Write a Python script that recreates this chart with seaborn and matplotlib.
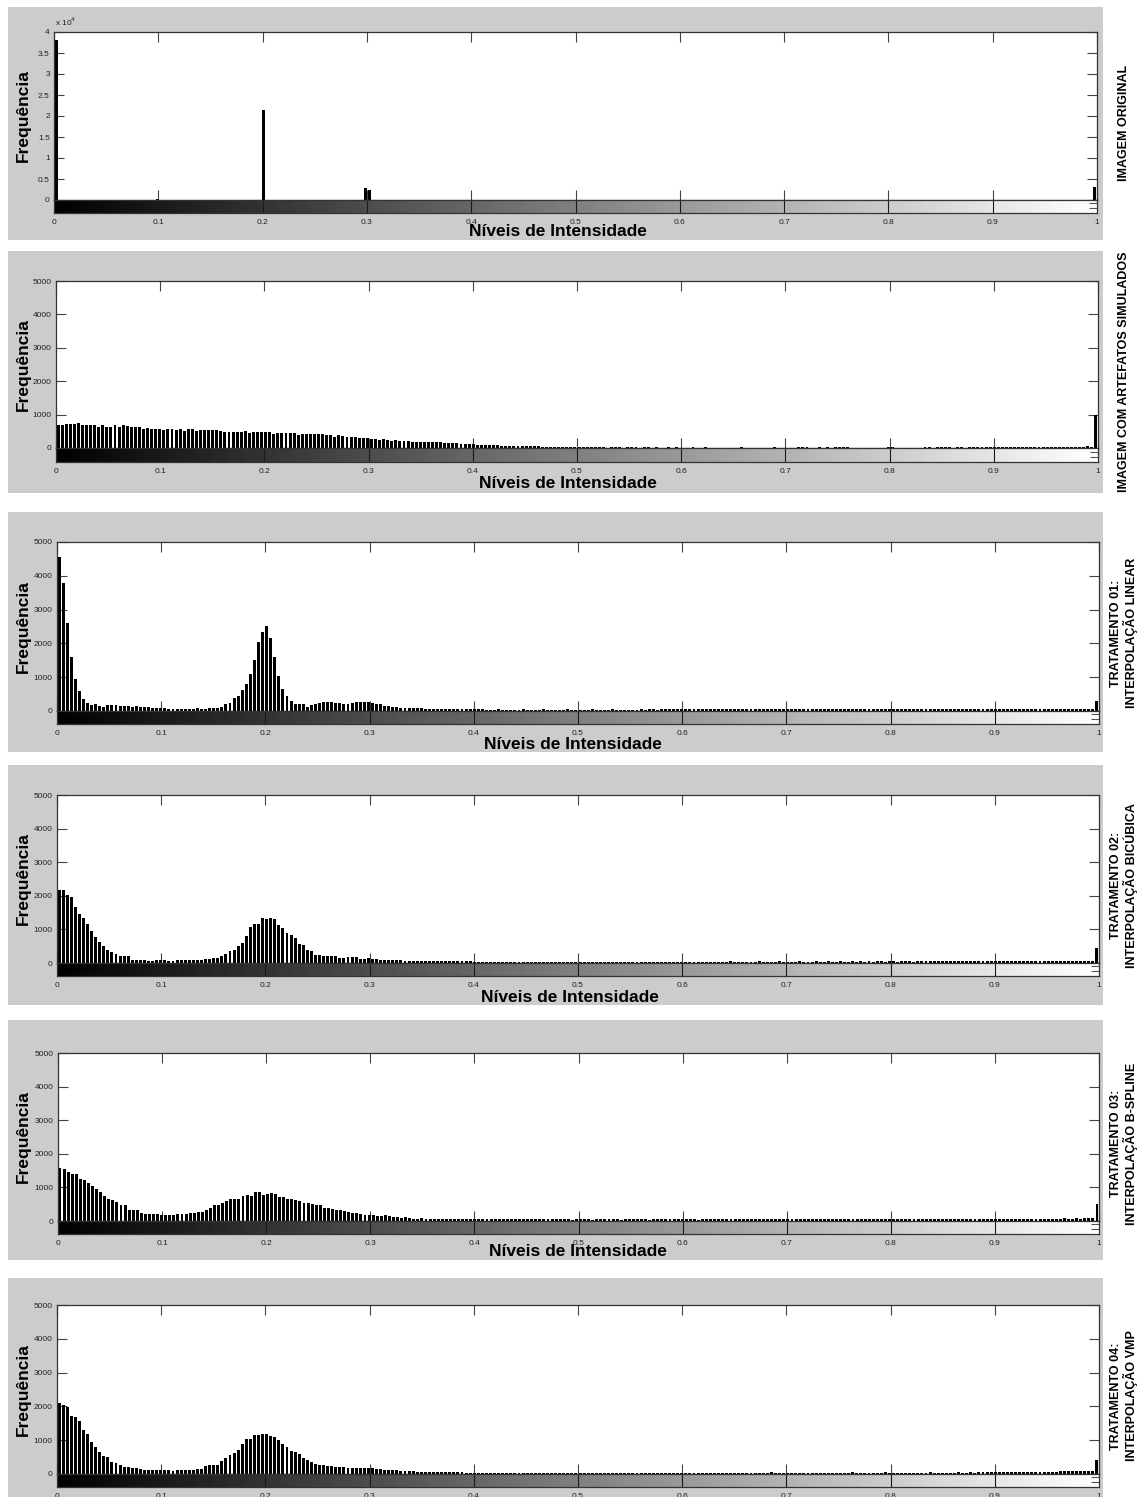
import numpy as np
import pandas as pd
import matplotlib
matplotlib.use("Agg")
import matplotlib.pyplot as plt
import seaborn as sns
from matplotlib.patches import Rectangle

# 256 niveis de cinza, centro de cada bin no intervalo [0, 1]
levels = (np.arange(256) + 0.5) / 256

# imagem original: so alguns niveis ocupados
orig_bins = [0, 25, 51, 76, 77, 255]
orig_counts = [38000, 150, 21500, 2800, 2300, 3000]

artefatos = [
    700, 690, 710, 730, 720, 740, 700, 690, 690, 690, 640, 680, 630, 640, 690, 620,
    700, 660, 620, 620, 620, 580, 600, 580, 570, 560, 550, 560, 560, 540, 570, 520,
    570, 560, 500, 550, 540, 530, 550, 540, 520, 490, 490, 490, 480, 490, 500, 460,
    470, 480, 470, 480, 470, 430, 450, 460, 460, 460, 450, 400, 420, 430, 420, 410,
    420, 410, 390, 380, 330, 400, 360, 330, 320, 320, 310, 290, 300, 280, 260, 250,
    270, 240, 220, 230, 210, 200, 200, 190, 190, 180, 190, 180, 180, 170, 170, 160,
    160, 150, 150, 130, 130, 120, 110, 100, 100, 90, 80, 80, 80, 70, 70, 60,
    60, 60, 60, 50, 50, 50, 50, 40, 40, 40, 40, 40, 40, 40, 40, 40,
    30, 40, 30, 30, 40, 30, 30, 0, 30, 20, 30, 0, 30, 30, 20, 0,
    20, 30, 0, 20, 0, 0, 30, 0, 20, 0, 0, 0, 30, 0, 0, 20,
    0, 0, 0, 0, 0, 0, 0, 0, 30, 0, 0, 0, 0, 0, 0, 0,
    20, 0, 0, 0, 0, 0, 30, 20, 30, 0, 0, 30, 0, 20, 0, 30,
    30, 20, 30, 0, 0, 0, 0, 0, 0, 0, 0, 0, 20, 30, 0, 0,
    0, 0, 0, 0, 0, 20, 30, 0, 30, 30, 20, 30, 0, 30, 30, 0,
    30, 30, 20, 30, 30, 30, 30, 30, 20, 30, 30, 30, 30, 30, 30, 30,
    30, 30, 30, 40, 30, 30, 30, 30, 30, 30, 30, 30, 40, 50, 40, 1000,
]

linear = [
    4550, 3800, 2600, 1600, 950, 580, 350, 230, 180, 200, 160, 130, 180, 180, 180, 150,
    150, 140, 130, 140, 120, 110, 110, 100, 100, 100, 100, 70, 70, 70, 70, 70,
    70, 70, 80, 70, 70, 80, 80, 90, 130, 210, 230, 370, 450, 620, 800, 1100,
    1520, 2030, 2340, 2500, 2150, 1600, 1050, 660, 430, 300, 200, 200, 200, 130, 170, 210,
    240, 270, 270, 270, 230, 230, 210, 220, 250, 270, 280, 280, 280, 250, 220, 200,
    150, 150, 130, 110, 100, 100, 90, 90, 80, 80, 70, 70, 70, 60, 60, 60,
    60, 60, 50, 50, 50, 50, 50, 50, 50, 40, 40, 40, 50, 40, 40, 40,
    40, 40, 50, 40, 40, 40, 40, 50, 40, 40, 40, 40, 40, 50, 40, 40,
    40, 40, 40, 50, 40, 40, 40, 40, 50, 40, 40, 40, 40, 40, 40, 50,
    40, 50, 50, 40, 50, 50, 50, 50, 50, 50, 50, 50, 50, 50, 50, 50,
    50, 50, 50, 50, 50, 50, 60, 50, 50, 50, 50, 50, 60, 50, 50, 50,
    50, 60, 50, 50, 50, 60, 50, 50, 60, 50, 60, 50, 50, 60, 50, 60,
    60, 50, 60, 60, 60, 60, 50, 60, 60, 60, 60, 60, 60, 60, 60, 60,
    60, 60, 60, 60, 60, 60, 60, 60, 60, 60, 70, 60, 60, 60, 60, 70,
    60, 60, 60, 70, 60, 60, 60, 60, 70, 60, 60, 60, 60, 60, 60, 70,
    60, 60, 60, 60, 70, 60, 60, 60, 60, 70, 60, 60, 70, 60, 60, 300,
]

bicubica = [
    2180, 2180, 2020, 1970, 1670, 1450, 1350, 1150, 950, 780, 630, 500, 400, 330, 280, 200,
    200, 200, 100, 100, 100, 80, 60, 50, 80, 80, 80, 70, 70, 80, 80, 80,
    80, 80, 90, 100, 120, 120, 150, 150, 200, 280, 350, 400, 500, 600, 800, 1070,
    1170, 1170, 1330, 1300, 1350, 1300, 1120, 1050, 900, 830, 750, 580, 530, 400, 350, 250,
    230, 200, 200, 200, 200, 150, 150, 170, 170, 170, 120, 110, 140, 130, 110, 100,
    100, 90, 90, 80, 80, 70, 70, 70, 60, 60, 60, 60, 60, 60, 50, 50,
    50, 50, 50, 50, 50, 50, 40, 40, 40, 40, 40, 40, 40, 40, 40, 40,
    40, 40, 40, 30, 40, 40, 40, 40, 40, 30, 40, 40, 40, 40, 30, 40,
    40, 40, 40, 40, 30, 40, 40, 40, 40, 40, 40, 30, 40, 40, 40, 40,
    40, 40, 30, 40, 40, 40, 40, 40, 40, 40, 40, 40, 40, 40, 40, 40,
    40, 40, 40, 40, 40, 50, 40, 40, 40, 40, 40, 40, 50, 40, 40, 40,
    40, 50, 40, 40, 40, 40, 50, 40, 40, 40, 50, 40, 40, 50, 40, 40,
    50, 40, 40, 50, 40, 50, 40, 50, 40, 50, 50, 40, 50, 50, 40, 50,
    50, 50, 40, 50, 50, 50, 50, 50, 50, 50, 50, 50, 50, 50, 50, 50,
    50, 50, 50, 50, 50, 50, 50, 60, 50, 50, 50, 50, 50, 50, 60, 50,
    50, 50, 60, 50, 50, 50, 60, 50, 50, 60, 50, 50, 60, 60, 60, 450,
]

bspline = [
    1580, 1550, 1450, 1400, 1400, 1250, 1230, 1120, 1040, 950, 860, 750, 650, 630, 560, 470,
    470, 340, 330, 330, 250, 220, 210, 200, 200, 190, 180, 180, 180, 200, 200, 200,
    230, 230, 280, 280, 330, 380, 480, 480, 550, 600, 640, 640, 640, 730, 780, 750,
    850, 850, 780, 790, 840, 810, 720, 720, 650, 650, 620, 600, 540, 540, 520, 490,
    480, 400, 380, 350, 330, 330, 300, 260, 230, 240, 200, 190, 180, 180, 150, 160,
    170, 140, 110, 110, 90, 110, 80, 70, 70, 80, 70, 70, 70, 70, 70, 60,
    60, 70, 60, 60, 60, 60, 60, 60, 60, 60, 50, 60, 50, 50, 60, 50,
    50, 50, 60, 50, 50, 50, 50, 60, 50, 50, 50, 50, 50, 50, 40, 50,
    50, 50, 50, 40, 50, 50, 50, 50, 50, 50, 40, 50, 50, 50, 50, 50,
    50, 40, 50, 50, 50, 50, 50, 50, 50, 50, 50, 50, 50, 40, 50, 50,
    50, 50, 50, 50, 50, 50, 50, 50, 60, 50, 50, 50, 50, 50, 50, 50,
    50, 50, 60, 50, 50, 50, 50, 60, 50, 50, 50, 60, 50, 50, 60, 50,
    60, 50, 50, 60, 50, 60, 50, 60, 60, 50, 60, 60, 50, 60, 60, 60,
    60, 60, 60, 60, 60, 60, 60, 60, 60, 70, 60, 60, 60, 60, 60, 60,
    60, 60, 60, 70, 60, 60, 60, 70, 60, 60, 70, 60, 70, 60, 70, 70,
    70, 70, 70, 60, 70, 70, 70, 80, 70, 70, 80, 70, 80, 80, 80, 500,
]

vmp = [
    2100, 2030, 1980, 1730, 1680, 1570, 1290, 1180, 950, 800, 650, 530, 510, 350, 330, 270,
    220, 200, 180, 170, 140, 130, 130, 120, 120, 110, 110, 110, 100, 110, 120, 120,
    120, 130, 140, 160, 230, 260, 270, 280, 370, 480, 570, 620, 700, 880, 1030, 1030,
    1150, 1150, 1190, 1190, 1130, 1090, 1020, 900, 800, 680, 650, 580, 460, 420, 350, 300,
    280, 260, 230, 230, 220, 200, 200, 190, 180, 180, 180, 170, 170, 170, 160, 150,
    130, 130, 110, 120, 100, 100, 80, 80, 60, 60, 60, 60, 50, 50, 50, 50,
    50, 50, 50, 50, 40, 40, 40, 40, 40, 40, 40, 40, 40, 40, 40, 40,
    40, 40, 40, 40, 40, 40, 40, 30, 40, 40, 40, 40, 40, 40, 40, 40,
    40, 40, 30, 40, 40, 40, 40, 40, 40, 30, 40, 40, 40, 40, 40, 40,
    40, 40, 40, 40, 40, 30, 40, 40, 40, 40, 40, 40, 40, 40, 40, 40,
    40, 40, 40, 40, 40, 40, 40, 40, 40, 40, 40, 40, 40, 40, 40, 50,
    40, 40, 40, 40, 30, 40, 40, 40, 40, 40, 40, 40, 30, 40, 40, 40,
    40, 40, 40, 50, 40, 40, 40, 40, 40, 40, 40, 50, 40, 40, 40, 40,
    40, 40, 40, 40, 40, 40, 50, 40, 40, 40, 40, 40, 40, 50, 40, 40,
    50, 40, 50, 50, 50, 50, 50, 50, 60, 50, 60, 60, 60, 60, 60, 70,
    70, 70, 70, 70, 70, 70, 80, 80, 80, 80, 80, 80, 80, 90, 90, 420,
]

titulos = [
    "IMAGEM ORIGINAL",
    "IMAGEM COM ARTEFATOS SIMULADOS",
    "TRATAMENTO 01:\nINTERPOLAÇÃO LINEAR",
    "TRATAMENTO 02:\nINTERPOLAÇÃO BICÚBICA",
    "TRATAMENTO 03:\nINTERPOLAÇÃO B-SPLINE",
    "TRATAMENTO 04:\nINTERPOLAÇÃO VMP",
]
xticks = [0, 0.1, 0.2, 0.3, 0.4, 0.5, 0.6, 0.7, 0.8, 0.9, 1]
xticklabels = ["0", "0.1", "0.2", "0.3", "0.4", "0.5", "0.6", "0.7", "0.8", "0.9", "1"]

series = [
    ([levels[k] for k in orig_bins], orig_counts),
    (levels, artefatos),
    (levels, linear),
    (levels, bicubica),
    (levels, bspline),
    (levels, vmp),
]

# posicoes em pixels (topo, zero, base da barra de cor) e fundo cinza
ax_top = [32, 281, 542, 795, 1053, 1305]
ax_zero = [200, 448, 711, 963, 1221, 1474]
cb_bot = [213, 462, 724, 976, 1234, 1487]
ax_left = [54, 56, 57, 57, 58, 57]
ax_right = [1097, 1098, 1099, 1099, 1099, 1099]
gray_top = [7, 251, 512, 765, 1020, 1278]
gray_bot = [240, 493, 752, 1005, 1260, 1530]
xlabel_x = [558, 568, 573, 570, 578, None]
xlabel_y = [232, 483, 744, 997, 1252, None]

W, H = 1144, 1497

sns.set_style("white")
plt.rcParams['font.family'] = ['Liberation Sans', 'DejaVu Sans']
plt.rcParams['text.color'] = 'black'

fig = plt.figure(figsize=(W / 100, H / 100), dpi=100)
fig.patch.set_facecolor("white")


def fx(x):
    return x / W


def fy(y):
    return 1 - y / H


tick_col = "#444444"
for i, (xs, ys) in enumerate(series):
    fig.patches.append(Rectangle((fx(8), fy(gray_bot[i])), fx(1103 - 8),
                                 (gray_bot[i] - gray_top[i]) / H,
                                 transform=fig.transFigure, facecolor="#cccccc",
                                 edgecolor="none", zorder=-10))

    l = fx(ax_left[i])
    w = fx(ax_right[i] - ax_left[i])
    ax = fig.add_axes([l, fy(ax_zero[i]), w, (ax_zero[i] - ax_top[i]) / H])
    cax = fig.add_axes([l, fy(cb_bot[i]), w, (cb_bot[i] - ax_zero[i]) / H])

    df = pd.DataFrame({"nivel": xs, "freq": ys})
    sns.barplot(data=df, x="nivel", y="freq", native_scale=True, orient="x",
                color="black", saturation=1, width=0.72, errorbar=None,
                linewidth=0, ax=ax)
    ax.set_facecolor("white")
    ax.set_xlim(0, 1)
    ax.set_xlabel("")
    ax.set_ylabel("")
    ax.set_xticks(xticks)
    ax.tick_params(axis="x", which="both", direction="in", length=7, width=0.8,
                   color=tick_col, top=True, bottom=True, labelbottom=False)
    if i == 0:
        ax.set_ylim(0, 40000)
        ax.set_yticks([0, 5000, 10000, 15000, 20000, 25000, 30000, 35000, 40000])
        ax.set_yticklabels(["0", "0.5", "1", "1.5", "2", "2.5", "3", "3.5", "4"])
        fig.text(fx(ax_left[i] + 1), fy(ax_top[i] - 4), "x 10$^4$", fontsize=6,
                 color="#222222", ha="left", va="bottom")
    else:
        ax.set_ylim(0, 5000)
        ax.set_yticks([0, 1000, 2000, 3000, 4000, 5000])
        ax.set_yticklabels(["0", "1000", "2000", "3000", "4000", "5000"])
    ax.tick_params(axis="y", direction="in", length=7, width=0.8, color=tick_col,
                   left=True, right=True, labelsize=6, labelcolor="#222222", pad=3)
    for s in ax.spines.values():
        s.set_color("#333333")
        s.set_linewidth(0.9)

    # barra de cinza embaixo do histograma
    cax.imshow(levels[None, :], cmap="gray", aspect="auto", extent=[0, 1, 0, 1],
               vmin=0, vmax=1)
    for t in xticks[1:-1]:
        cax.axvline(t, color="#1a1a1a", lw=0.8)
    cax.set_xlim(0, 1)
    cax.set_ylim(0, 1)
    cax.set_xticks(xticks)
    cax.set_xticklabels(xticklabels)
    cax.tick_params(axis="x", length=0, labelsize=6, labelcolor="#222222", pad=4)
    cax.set_yticks([0.35, 0.75])
    cax.tick_params(axis="y", direction="in", length=6, width=0.8, color="#555555",
                    left=False, right=True, labelleft=False)
    for s in cax.spines.values():
        s.set_color("#333333")
        s.set_linewidth(0.9)

    fig.text(fx(23), fy((ax_top[i] + ax_zero[i]) / 2), "Frequência", rotation=90,
             ha="center", va="center", fontsize=12.5, fontweight="bold",
             color="black")
    if xlabel_x[i] is not None:
        fig.text(fx(xlabel_x[i]), fy(xlabel_y[i]), "Níveis de Intensidade",
                 ha="center", va="center", fontsize=12.5, fontweight="bold",
                 color="black")
    fig.text(fx(1124), fy((ax_top[i] + cb_bot[i]) / 2), titulos[i], rotation=90,
             ha="center", va="center", fontsize=9, fontweight="bold",
             linespacing=1.0, multialignment="center", color="black")

fig.savefig("out.png", dpi=100)
